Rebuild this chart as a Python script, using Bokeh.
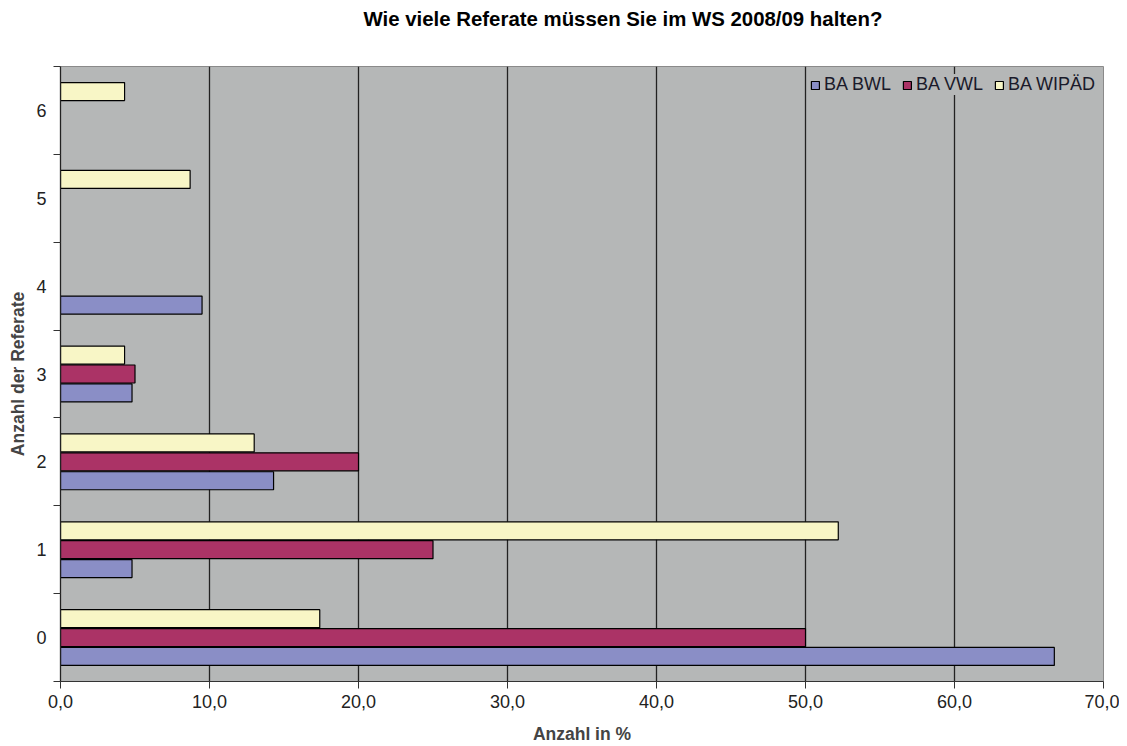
from bokeh.plotting import figure
from bokeh.models import ColumnDataSource, FixedTicker, Range1d, Legend, LegendItem, Title
from bokeh.transform import dodge
from bokeh.embed import file_html
from bokeh.resources import INLINE

categories = [0, 1, 2, 3, 4, 5, 6]
bwl = [66.7, 4.8, 14.3, 4.8, 9.5, 0, 0]
vwl = [50.0, 25.0, 20.0, 5.0, 0, 0, 0]
wipaed = [17.4, 52.2, 13.0, 4.3, 0, 8.7, 4.3]
series_names = ["BA BWL", "BA VWL", "BA WIPÄD"]
x_ticks = [0, 10, 20, 30, 40, 50, 60, 70]

colors = ["#8a8ec6", "#ab3366", "#f8f6c6"]
offsets = [-0.215, 0.0, 0.215]
FONT = "Liberation Sans"

p = figure(width=1119, height=746, output_backend="svg", toolbar_location=None, title=None,
           x_range=Range1d(0, 70), y_range=Range1d(-0.5, 6.5),
           min_border_left=60, min_border_right=16, min_border_top=66, min_border_bottom=64)
p.background_fill_color = "#b5b7b7"
p.border_fill_color = "white"
p.outline_line_color = "#8a8a8a"
p.outline_line_width = 1

renderers = []
for vals, col, off in zip([bwl, vwl, wipaed], colors, offsets):
    ys = [c for c, v in zip(categories, vals) if v > 0]
    xs = [v for v in vals if v > 0]
    src = ColumnDataSource(dict(y=ys, right=xs))
    r = p.hbar(y=dodge("y", off, range=p.y_range), right="right", left=0, height=0.205,
               source=src, fill_color=col, line_color="black", line_width=1.2)
    renderers.append(r)

# grids
p.ygrid.grid_line_color = None
p.xgrid.ticker = FixedTicker(ticks=[10, 20, 30, 40, 50, 60])
p.xgrid.grid_line_color = "#222222"
p.xgrid.grid_line_width = 1.3
p.xgrid.level = "underlay"

# x axis
xa = p.xaxis[0]
xa.ticker = FixedTicker(ticks=x_ticks)
xa.major_label_overrides = {t: f"{t:.1f}".replace(".", ",") for t in x_ticks}
xa.major_tick_out = 7
xa.major_tick_in = 0
xa.minor_tick_line_color = None
xa.axis_line_color = "#333333"
xa.major_tick_line_color = "#333333"
xa.major_label_text_font = FONT
xa.major_label_text_font_size = "18px"
xa.major_label_text_color = "#222222"
xa.major_label_standoff = 6
xa.axis_label = "Anzahl in %"
xa.axis_label_text_font = FONT
xa.axis_label_text_font_style = "bold"
xa.axis_label_text_font_size = "17.5px"
xa.axis_label_standoff = 13

# y axis
ya = p.yaxis[0]
ya.ticker = FixedTicker(ticks=categories, minor_ticks=[c - 0.5 for c in categories] + [6.5])
ya.major_tick_line_color = None
ya.major_tick_out = 0
ya.major_tick_in = 0
ya.minor_tick_out = 7
ya.minor_tick_in = 0
ya.minor_tick_line_color = "#333333"
ya.axis_line_color = "#222222"
ya.axis_line_width = 1.3
ya.major_label_text_font = FONT
ya.major_label_text_font_size = "18px"
ya.major_label_text_color = "#222222"
ya.major_label_standoff = 7
ya.axis_label = "Anzahl der Referate"
ya.axis_label_text_font = FONT
ya.axis_label_text_font_style = "bold"
ya.axis_label_text_font_size = "17.5px"
ya.axis_label_standoff = 5

legend = Legend(items=[LegendItem(label=n, renderers=[r]) for n, r in zip(series_names, renderers)],
                orientation="horizontal", location="top_right",
                background_fill_color="#b5b7b7", background_fill_alpha=1.0,
                border_line_color=None, label_text_font=FONT, label_text_font_size="18px",
                label_text_color="#1a1a2a", glyph_width=10, glyph_height=10,
                spacing=11, label_standoff=4, padding=5, margin=8)
p.add_layout(legend, "center")

# spacer between frame and title, then the title itself
p.add_layout(Title(text=" ", text_font_size="1px", standoff=29), "above")
p.add_layout(Title(text="Wie viele Referate müssen Sie im WS 2008/09 halten?", align="left",
                   offset=303, text_font=FONT, text_font_size="20.4px", text_font_style="bold",
                   text_color="black", standoff=10), "above")

open("out.html", "w").write(file_html(p, INLINE))
